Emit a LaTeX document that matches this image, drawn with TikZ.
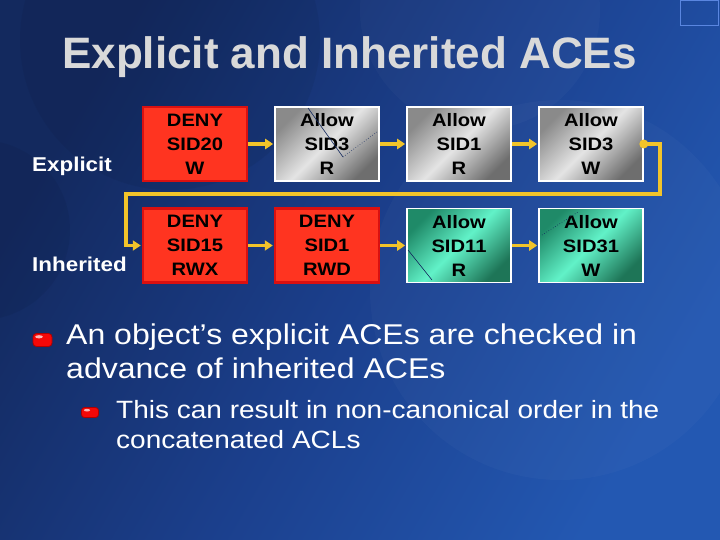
\documentclass[tikz,border=0pt]{standalone}
\usepackage{fontspec}
\setmainfont{Liberation Sans}
\newfontfamily\wide[FakeStretch=1.12]{Liberation Sans}
\usetikzlibrary{arrows.meta}
\definecolor{bgdark}{HTML}{13295E}
\definecolor{bgmid}{HTML}{1B3F8C}
\definecolor{bglight}{HTML}{2358B2}
\definecolor{ttl}{HTML}{D9D9D9}
\definecolor{denyfill}{HTML}{FF3420}
\definecolor{denyedge}{HTML}{DA1010}
\definecolor{gold}{HTML}{F2C42A}
\definecolor{gdark}{HTML}{8A8A8A}
\definecolor{glight}{HTML}{E4E4E4}
\definecolor{gdark2}{HTML}{6E6E6E}
\definecolor{tdark}{HTML}{1F8A68}
\definecolor{tlight}{HTML}{62F2C8}
\definecolor{tdark2}{HTML}{1E7557}
\definecolor{frame}{HTML}{5A86E0}
\definecolor{bulred}{HTML}{F40808}
\definecolor{bullo}{HTML}{B00000}
\tikzset{
  ace/.style={minimum width=104pt, minimum height=74pt, inner sep=0pt, align=center,
    font=\wide\bfseries\fontsize{18}{24}\selectfont, text=black},
  deny/.style={ace, fill=denyfill, draw=denyedge, line width=2.5pt},
  allowg/.style={ace, draw=white, line width=1.6pt, top color=gdark, bottom color=gdark2, middle color=glight, shading angle=45},
  allowt/.style={ace, draw=white, line width=1.6pt, top color=tdark, bottom color=tdark2, middle color=tlight, shading angle=45},
  flow/.style={draw=gold, line width=3.8pt, -{Triangle[length=8pt,width=10pt]}, shorten >=1pt},
  lbl/.style={anchor=base west, inner sep=0pt, text=white, font=\wide\bfseries\fontsize{20}{24}\selectfont},
  big/.style={anchor=base west, inner sep=0pt, text=white, font=\wide\fontsize{28.6}{34}\selectfont},
  small/.style={anchor=base west, inner sep=0pt, text=white, font=\wide\fontsize{25}{30}\selectfont},
  bul/.style={rounded corners=3.5pt, fill=bulred, draw=bullo, line width=0.8pt},
  scratch/.style={draw=bgdark, line width=0.6pt}
}
\begin{document}
\begin{tikzpicture}[x=1pt, y=-1pt]
\useasboundingbox (0,0) rectangle (720,540);
% background
\shade[top color=bgdark, bottom color=bglight, middle color=bgmid, shading angle=60] (0,0) rectangle (720,540);
\fill[black, opacity=0.05] (170,40) circle (150);
\fill[white, opacity=0.025] (560,290) circle (190);
\fill[black, opacity=0.05] (-20,230) circle (90);
\fill[white, opacity=0.025] (480,10) circle (120);
\draw[frame, line width=1pt] (680.5,0.5) rectangle (718.5,25.5);
% title
\node[anchor=base west, inner sep=0pt, text=ttl, font=\bfseries\fontsize{44}{50}\selectfont] (title) at (62,68.5) {Explicit and Inherited ACEs};
% row labels
\node[lbl] (lx) at (32,172) {Explicit};
\node[lbl] (li) at (32,271) {Inherited};
% ACE boxes
\node[deny] (a1) at (195,144) {DENY\\SID20\\W};
\node[allowg] (a2) at (327,144) {Allow\\SID3\\R};
\node[allowg] (a3) at (459,144) {Allow\\SID1\\R};
\node[allowg] (a4) at (591,144) {Allow\\SID3\\W};
\node[deny] (b1) at (195,245.5) {DENY\\SID15\\RWX};
\node[deny] (b2) at (327,245.5) {DENY\\SID1\\RWD};
\node[allowt] (b3) at (459,245.5) {Allow\\SID11\\R};
\node[allowt] (b4) at (591,245.5) {Allow\\SID31\\W};
% scratch marks
\draw[scratch] (308,108) -- (343,157);
\draw[scratch, dotted] (343,157) -- (377,132);
\draw[scratch] (408,250) -- (432,280);
\draw[scratch, dotted] (542,235) -- (578,212);
% connectors
\draw[flow] (a1.east) -- (a2.west);
\draw[flow] (a2.east) -- (a3.west);
\draw[flow] (a3.east) -- (a4.west);
\draw[flow] (b1.east) -- (b2.west);
\draw[flow] (b2.east) -- (b3.west);
\draw[flow] (b3.east) -- (b4.west);
\coordinate (r) at (660,194);
\coordinate (l) at (126,194);
\draw[flow, line join=miter] (a4.east) -| (r) -- (l) |- (b1.west);
\fill[gold] (a4.east) circle (4.5);
% bullets
\node[bul, minimum width=19pt, minimum height=13pt, inner sep=0pt] (bu1) at (42.5,340) {};
\fill[white, opacity=0.7] (39,336.8) ellipse (3.8 and 1.6);
\node[big] (t1) at (66,344) {An object’s explicit ACEs are checked in};
\node[big] (t2) at (66,378) {advance of inherited ACEs};
\node[bul, minimum width=17pt, minimum height=10pt, inner sep=0pt, rounded corners=3pt] (bu2) at (90,412.5) {};
\fill[white, opacity=0.7] (87,410.2) ellipse (3.2 and 1.3);
\node[small] (s1) at (116,418) {This can result in non-canonical order in the};
\node[small] (s2) at (116,448) {concatenated ACLs};
\end{tikzpicture}
\end{document}
